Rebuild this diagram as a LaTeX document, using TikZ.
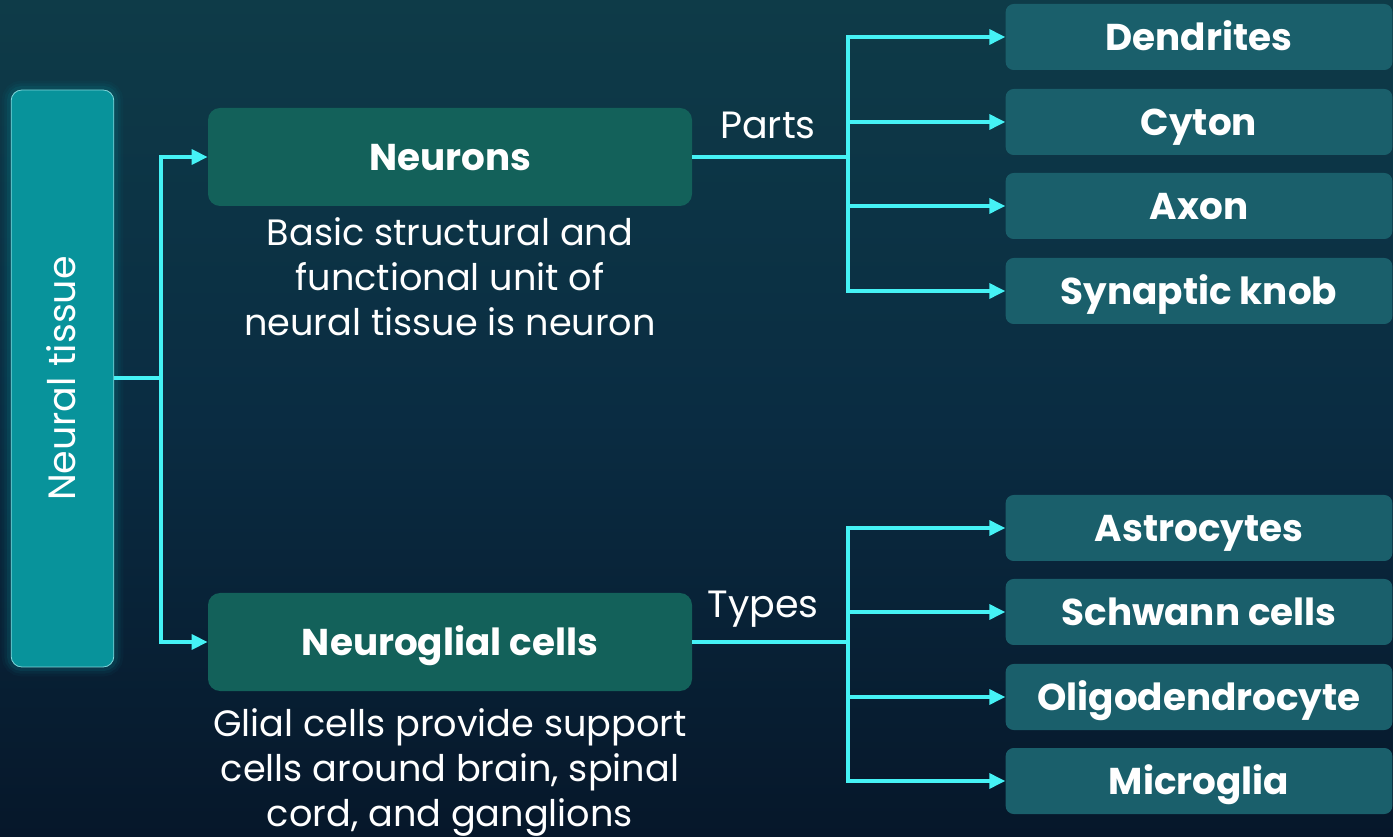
\documentclass[tikz,border=0pt]{standalone}
\usepackage{fontspec}
\setmainfont{Poppins}
\usetikzlibrary{arrows.meta}
\definecolor{bgtop}{HTML}{0E3B48}
\definecolor{bgmid}{HTML}{0A2C42}
\definecolor{bgbot}{HTML}{06172A}
\definecolor{tissue}{HTML}{08939B}
\definecolor{tissueedge}{HTML}{7FD6DA}
\definecolor{mainbox}{HTML}{13615A}
\definecolor{subbox}{HTML}{1A5F6B}
\definecolor{wire}{HTML}{45F2F5}
\tikzset{
  wireline/.style={draw=wire, line width=3pt},
  arr/.style={wireline, -{Triangle[length=12pt,width=11pt]}},
  mainnode/.style={fill=mainbox, rounded corners=9pt, minimum width=363pt, minimum height=73.5pt, font=\fontsize{28}{32}\selectfont\bfseries, text=white, inner sep=0pt, text height=19.6pt, text depth=0pt},
  subnode/.style={fill=subbox, rounded corners=6pt, minimum width=290pt, minimum height=49.5pt, font=\fontsize{28}{32}\selectfont\bfseries, text=white, inner sep=0pt, text height=19.6pt, text depth=0pt},
  desc/.style={font=\fontsize{27.5}{33.75}\selectfont, text=white, align=center, inner sep=0pt},
  lbl/.style={font=\fontsize{28.5}{32}\selectfont, text=white, inner sep=0pt}
}
\begin{document}
\begin{tikzpicture}[x=0.75pt,y=-0.75pt]
\shade[top color=bgtop, bottom color=bgbot, middle color=bgmid] (0,0) rectangle (1393,837);
\useasboundingbox (0,0) rectangle (1393,837);
% glow of tissue box
\foreach \w/\o in {14/0.05,10/0.08,6/0.12}{
  \draw[tissue, line width=\w pt, opacity=\o, rounded corners=8pt] (11,90) rectangle (114,667);
}
\node[fill=tissue, draw=tissueedge, line width=0.6pt, rounded corners=8pt, minimum width=77pt, minimum height=432.75pt, inner sep=0pt] (tissue) at (62.5,378.5) {};
\node[lbl, rotate=90, text height=20pt, text depth=0pt] (tissuelbl) at (62.5,378.5) {Neural tissue};

\node[mainnode] (neurons) at (450,157) {Neurons};
\node[mainnode] (glial) at (450,642) {Neuroglial cells};

\node[desc] (ndesc) at (450,277) {Basic structural and\\functional unit of\\neural tissue is neuron};
\node[desc] (gdesc) at (450,772) {Glial cells provide support\\cells around brain, spinal\\cord, and ganglions};

\node[subnode] (dend) at (1199,37) {Dendrites};
\node[subnode] (cyton) at (1199,122) {Cyton};
\node[subnode] (axon) at (1199,206) {Axon};
\node[subnode] (syn) at (1199,291) {Synaptic knob};
\node[subnode] (astro) at (1199,528) {Astrocytes};
\node[subnode] (schw) at (1199,612) {Schwann cells};
\node[subnode] (oligo) at (1199,697) {Oligodendrocyte};
\node[subnode] (micro) at (1199,781) {Microglia};

\coordinate (t0) at (161,378.5);
\coordinate (n0) at (848,157);
\coordinate (g0) at (848,642);

% trunk from tissue
\draw[wireline] (tissue.east |- t0) -- (t0);
\draw[arr] (t0) |- (neurons.west);
\draw[arr] (t0) |- (glial.west);

% neurons parts
\draw[wireline] (neurons.east) -- (n0);
\node[lbl] (parts) at (768,125) {Parts};
\foreach \t in {dend,cyton,axon,syn}{
  \draw[arr] (n0) |- (\t.west);
}
% glial types
\draw[wireline] (glial.east) -- (g0);
\node[lbl] (types) at (763,609) {Types};
\foreach \t in {astro,schw,oligo,micro}{
  \draw[arr] (g0) |- (\t.west);
}
\end{tikzpicture}
\end{document}
